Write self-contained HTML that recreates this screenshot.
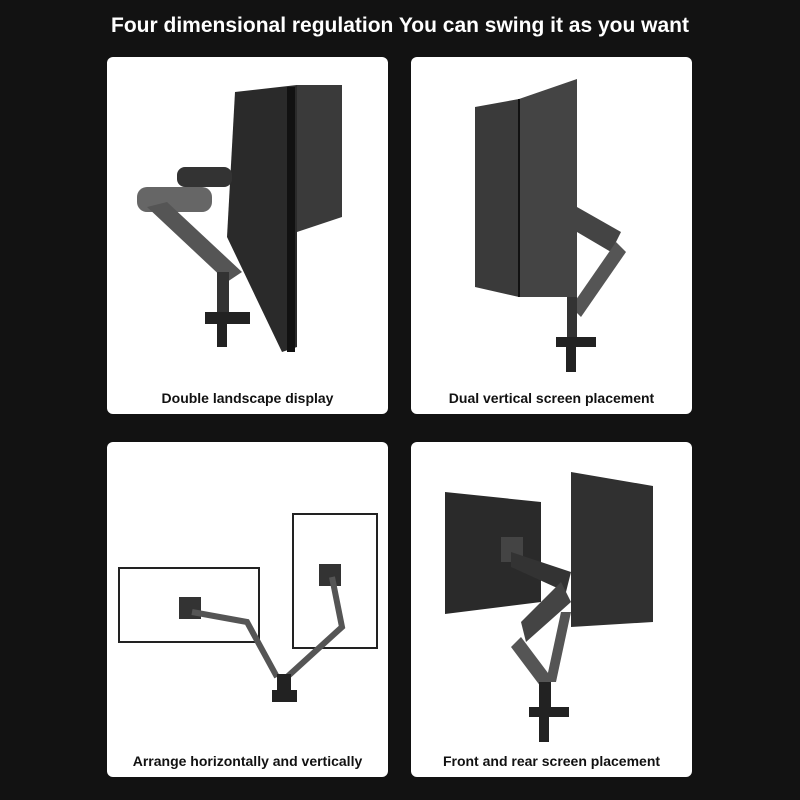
<!DOCTYPE html>
<html><head><style>
body{margin:0;width:800px;height:800px;background:#121212;overflow:hidden;font-family:"Liberation Sans",sans-serif;}
.t{position:absolute;top:14px;left:0;width:800px;text-align:center;color:#fff;font-weight:bold;font-size:21px;}
.p{position:absolute;background:#fff;border-radius:6px;}
.l{position:absolute;left:0;width:100%;text-align:center;font-weight:bold;font-size:14px;color:#111;}
svg{position:absolute;left:0;top:0;}
</style></head><body>
<div class="t">Four dimensional regulation You can swing it as you want</div>
<div class="p" style="left:107px;top:57px;width:281px;height:357px;">
<svg width="281" height="357">
<polygon points="128,35 190,28 190,290 175,295 120,180" fill="#2a2a2a"/>
<polygon points="190,28 235,28 235,160 190,175" fill="#3a3a3a"/>
<rect x="180" y="30" width="8" height="265" fill="#111"/>
<rect x="30" y="130" width="75" height="25" rx="10" fill="#666"/>
<rect x="70" y="110" width="55" height="20" rx="8" fill="#333"/>
<polygon points="40,150 60,145 135,215 120,225" fill="#555"/>
<rect x="110" y="215" width="12" height="40" fill="#333"/>
<rect x="98" y="255" width="45" height="12" fill="#222"/>
<rect x="110" y="265" width="10" height="25" fill="#222"/>
</svg>
<div class="l" style="top:333px;">Double landscape display</div></div>
<div class="p" style="left:411px;top:57px;width:281px;height:357px;">
<svg width="281" height="357">
<polygon points="64,50 108,42 108,240 64,230" fill="#3a3a3a"/>
<polygon points="108,42 166,22 166,240 108,240" fill="#444"/>
<line x1="108" y1="42" x2="108" y2="240" stroke="#111" stroke-width="2"/>
<polygon points="166,150 210,175 200,195 166,175" fill="#444"/>
<polygon points="205,185 215,195 170,260 160,250" fill="#555"/>
<rect x="156" y="240" width="10" height="40" fill="#333"/>
<rect x="145" y="280" width="40" height="10" fill="#222"/>
<rect x="155" y="290" width="10" height="25" fill="#222"/>
</svg>
<div class="l" style="top:333px;">Dual vertical screen placement</div></div>
<div class="p" style="left:107px;top:442px;width:281px;height:335px;">
<svg width="281" height="335">
<rect x="12" y="126" width="140" height="74" fill="#fff" stroke="#222" stroke-width="2"/>
<rect x="186" y="72" width="84" height="134" fill="#fff" stroke="#222" stroke-width="2"/>
<rect x="72" y="155" width="22" height="22" fill="#333"/>
<rect x="212" y="122" width="22" height="22" fill="#333"/>
<polyline points="85,170 140,180 170,235" fill="none" stroke="#555" stroke-width="6"/>
<polyline points="225,135 235,185 180,235" fill="none" stroke="#555" stroke-width="6"/>
<rect x="170" y="232" width="14" height="18" fill="#222"/>
<rect x="165" y="248" width="25" height="12" fill="#222"/>
</svg>
<div class="l" style="top:311px;">Arrange horizontally and vertically</div></div>
<div class="p" style="left:411px;top:442px;width:281px;height:335px;">
<svg width="281" height="335">
<polygon points="34,50 130,60 130,160 34,172" fill="#2a2a2a"/>
<polygon points="160,30 242,44 242,180 160,185" fill="#303030"/>
<rect x="90" y="95" width="22" height="25" fill="#444"/>
<polygon points="100,110 160,130 155,150 100,125" fill="#333"/>
<polygon points="150,140 110,180 115,200 160,160" fill="#444"/>
<polygon points="110,195 140,235 130,245 100,205" fill="#555"/>
<polygon points="160,170 145,240 135,240 150,170" fill="#555"/>
<rect x="128" y="240" width="12" height="25" fill="#222"/>
<rect x="118" y="265" width="40" height="10" fill="#222"/>
<rect x="128" y="275" width="10" height="25" fill="#222"/>
</svg>
<div class="l" style="top:311px;">Front and rear screen placement</div></div>
</body></html>
